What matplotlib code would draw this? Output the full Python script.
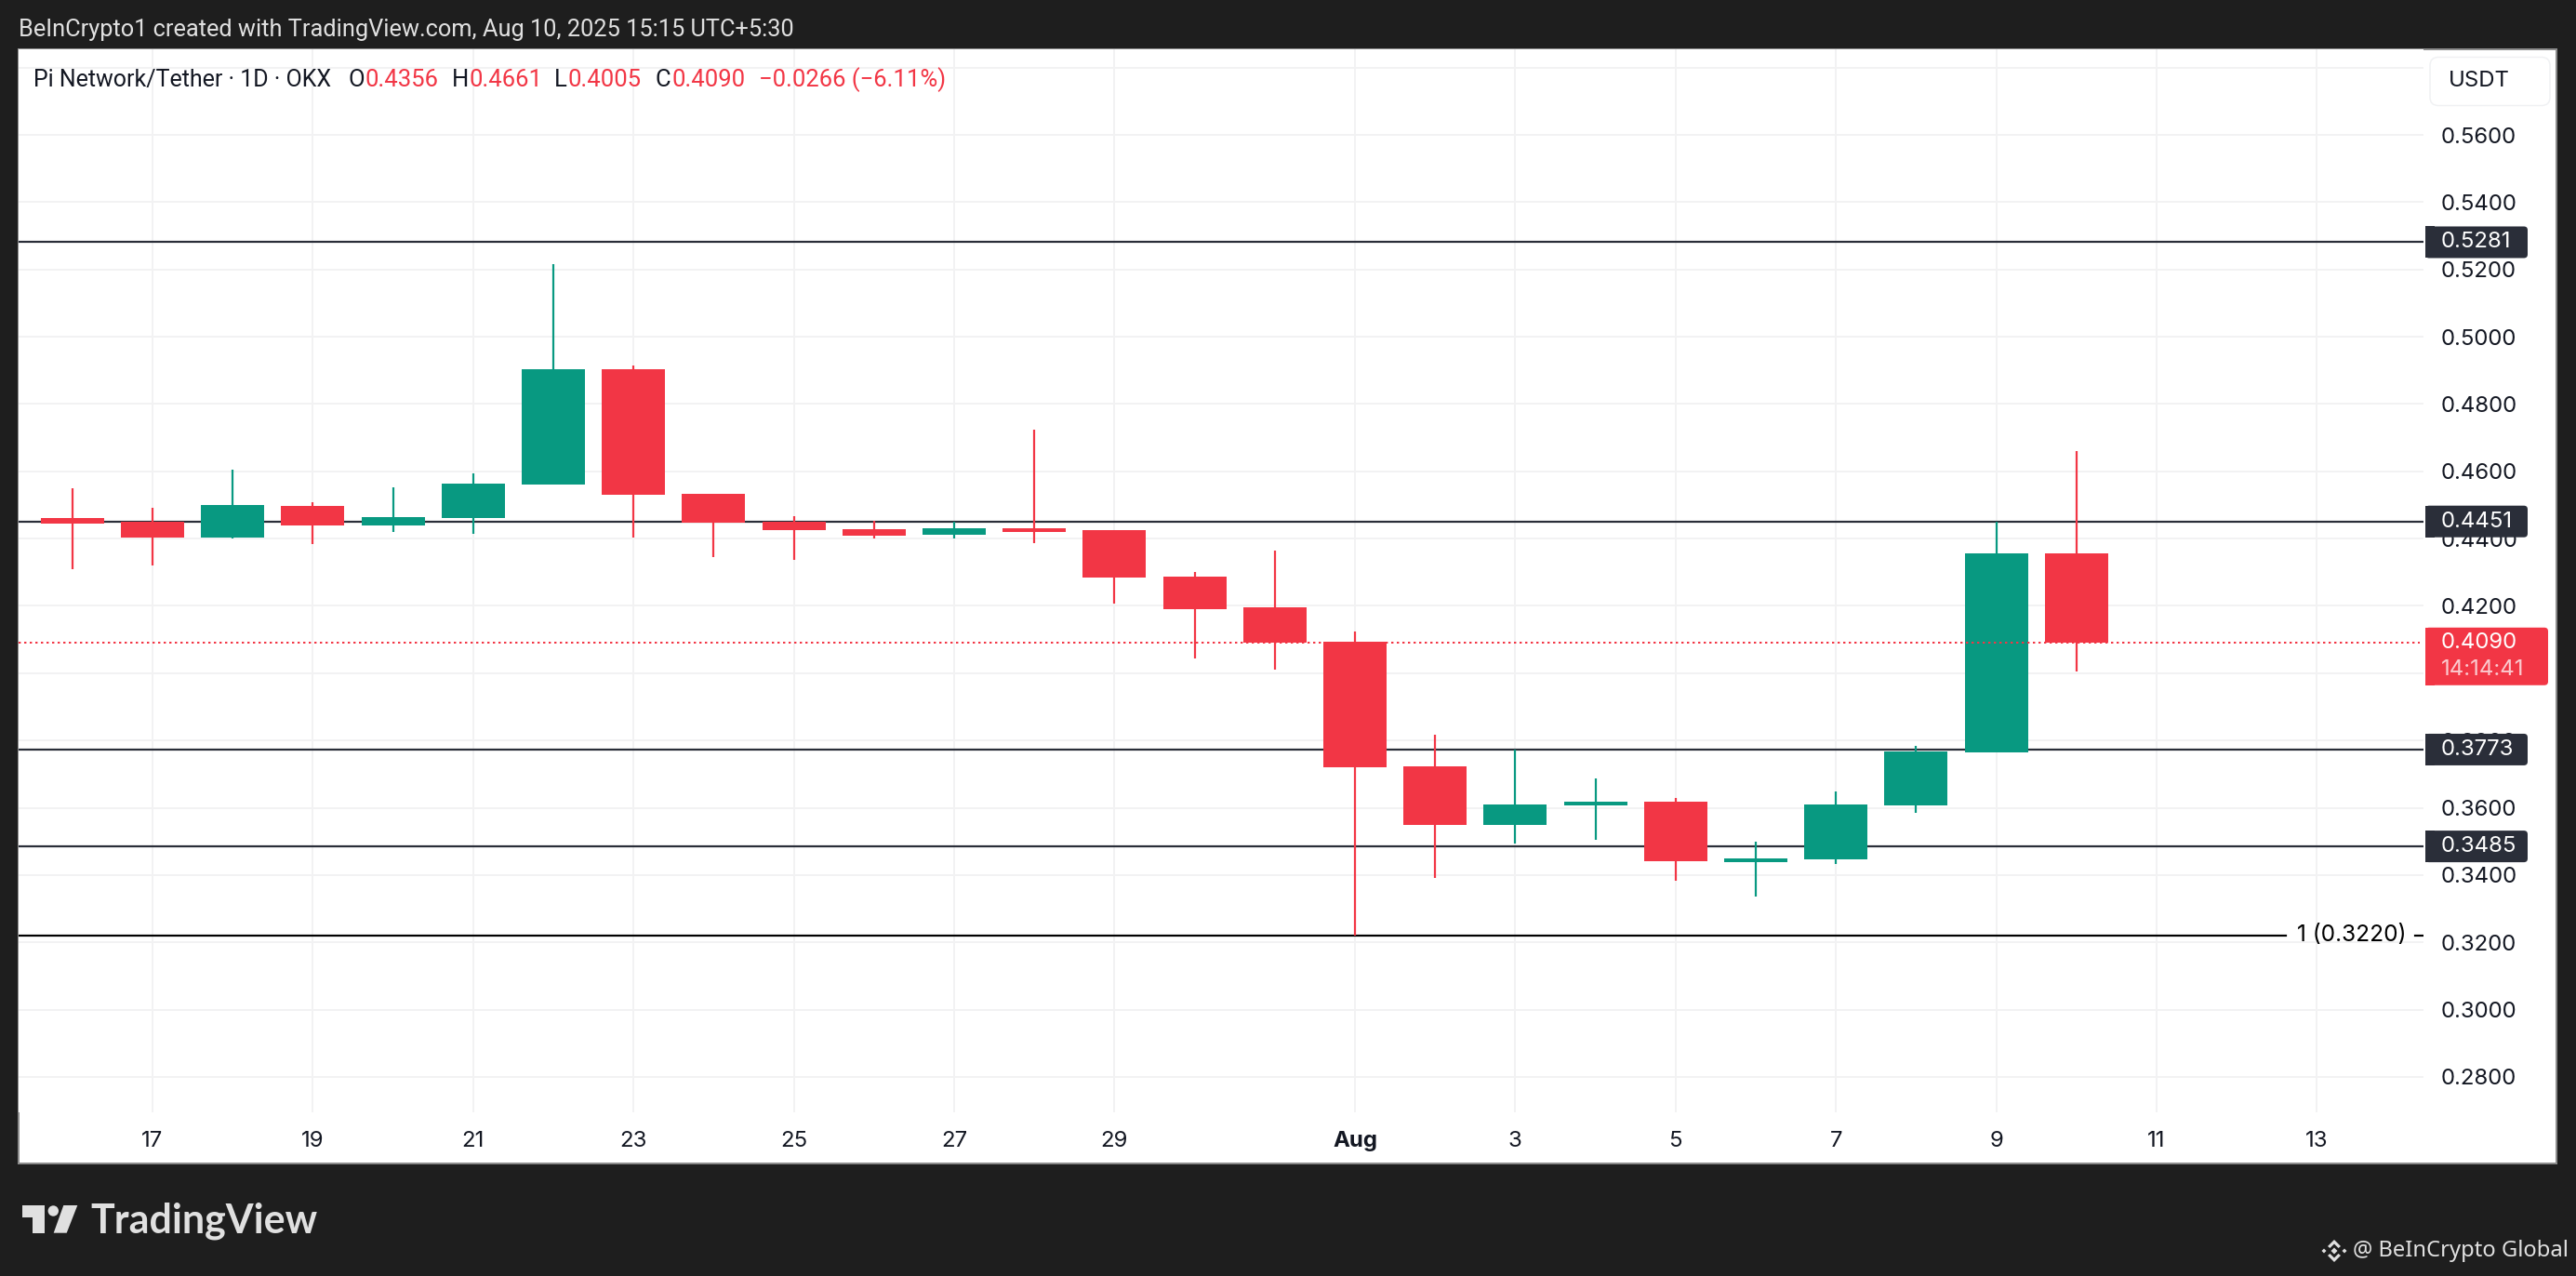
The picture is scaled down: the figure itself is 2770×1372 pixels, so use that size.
import matplotlib
matplotlib.use('Agg')
import matplotlib.pyplot as plt
from matplotlib.patches import Rectangle, FancyBboxPatch, Polygon, Circle
from matplotlib.transforms import IdentityTransform

# Daily candles, Jul 16 to Aug 10
opens = [0.4461, 0.4450, 0.4403, 0.4497, 0.4439, 0.4461, 0.4561, 0.4903, 0.4532, 0.4449, 0.4427, 0.4411, 0.4430,
         0.4425, 0.4286, 0.4195, 0.4093, 0.3723, 0.3549, 0.3607, 0.3618, 0.3438, 0.3446, 0.3607, 0.3764, 0.4356]
highs = [0.4549, 0.4491, 0.4605, 0.4508, 0.4552, 0.4594, 0.5216, 0.4914, 0.4532, 0.4466, 0.4452, 0.4451, 0.4723,
         0.4425, 0.4300, 0.4364, 0.4124, 0.3817, 0.3773, 0.3687, 0.3629, 0.3499, 0.3648, 0.3784, 0.4451, 0.4661]
lows = [0.4309, 0.4320, 0.4400, 0.4384, 0.4420, 0.4414, 0.4561, 0.4403, 0.4344, 0.4336, 0.4400, 0.4400, 0.4386,
        0.4206, 0.4043, 0.4010, 0.3220, 0.3391, 0.3493, 0.3504, 0.3383, 0.3336, 0.3433, 0.3585, 0.3764, 0.4005]
closes = [0.4444, 0.4403, 0.4500, 0.4439, 0.4464, 0.4563, 0.4903, 0.4530, 0.4447, 0.4425, 0.4408, 0.4430, 0.4419,
          0.4284, 0.4190, 0.4090, 0.3720, 0.3549, 0.3610, 0.3618, 0.3441, 0.3449, 0.3610, 0.3767, 0.4356, 0.4090]

x_ticks = [1, 3, 5, 7, 9, 11, 13, 16, 18, 20, 22, 24, 26, 28]
x_labels = ['17', '19', '21', '23', '25', '27', '29', 'Aug', '3', '5', '7', '9', '11', '13']
price_ticks = [0.58, 0.56, 0.54, 0.52, 0.50, 0.48, 0.46, 0.44, 0.42, 0.40, 0.38, 0.36, 0.34, 0.32, 0.30, 0.28]
levels = [0.5281, 0.4451, 0.3773, 0.3485]
fib_level = 0.3220
last_price = 0.4090

GREEN = '#089981'
RED = '#f23645'
DARK = '#2a2e39'
BG = '#1e1e1e'
GRID = '#f2f2f3'
W, H = 2770, 1372
FONT = 'Inter'

fig = plt.figure(figsize=(W / 100, H / 100), dpi=100, facecolor=BG)
pix = IdentityTransform()


def px(v):
    # pixels to points
    return v * 0.72


def txt(x, y, s, color='#131722', size=24, ha='left', va='center', family=FONT, **kw):
    return fig.text(x / W, 1 - y / H, s, color=color, fontsize=px(size), ha=ha, va=va, family=family, zorder=8, **kw)


# white chart frame
fig.add_artist(Rectangle((20, H - 1251), 2729, 1198, transform=pix, facecolor='white', edgecolor='#8c8c8c',
                         linewidth=px(2), zorder=-1))

ax = fig.add_axes([20 / W, 1 - 1196 / H, 2586 / W, 1143 / H])
ax.set_facecolor('white')
for s in ax.spines.values():
    s.set_visible(False)
ax.set_xlim(-0.6705, 29.33)
ax.set_ylim(0.26946, 0.58546)

ax.set_axisbelow(True)
ax.grid(True, color=GRID, linewidth=px(2))
ax.set_xticks(x_ticks)
ax.set_xticklabels(x_labels, fontsize=px(24), family=FONT, color='#131722')
ax.get_xticklabels()[x_labels.index('Aug')].set_fontweight('bold')
for t in ax.get_xticklabels():
    t.set_va('center')
ax.yaxis.tick_right()
ax.set_yticks(price_ticks[1:])
ax.set_yticklabels(['%.4f' % p for p in price_ticks[1:]], fontsize=px(24), family=FONT, color='#131722')
ax.tick_params(axis='x', length=0, pad=px(31))
ax.tick_params(axis='y', length=0, pad=px(19))
# the 0.58 line has a grid line but no label
ax.axhline(price_ticks[0], color=GRID, linewidth=px(2), zorder=0)

# horizontal levels
for lv in levels:
    ax.axhline(lv, color=DARK, linewidth=px(2.2), zorder=1)
ax.plot([-0.6705, 27.61], [fib_level, fib_level], color='black', linewidth=px(2.2), zorder=1)
ax.plot([29.23, 29.33], [fib_level, fib_level], color='black', linewidth=px(2.2), zorder=1)

# candles
days = list(range(len(opens)))
colors = [GREEN if c >= o else RED for o, c in zip(opens, closes)]
ax.vlines(days, lows, highs, colors=colors, linewidth=px(2.2), zorder=2)
bottoms = [min(o, c) for o, c in zip(opens, closes)]
heights = [abs(c - o) for o, c in zip(opens, closes)]
ax.bar(days, heights, bottom=bottoms, width=0.789, color=colors, linewidth=0, zorder=3)

ax.plot([-0.6705, 29.28], [last_price, last_price], color=RED, linewidth=px(2), linestyle=(0, (1.2, 1.8)), zorder=4)


def py(price):
    # pixel height measured from the top of the figure
    return H - ax.transData.transform((0, price))[1]


def price_box(x0, x1, y0, y1, color):
    fig.add_artist(FancyBboxPatch((x0, H - y1), x1 - x0, y1 - y0, boxstyle='round,pad=0,rounding_size=4', transform=pix,
                                  facecolor=color, edgecolor='none', zorder=5))
    fig.add_artist(Rectangle((x0, H - y1), 10, y1 - y0, transform=pix, facecolor=color, edgecolor='none', zorder=5))


for lv in levels:
    price_box(2608, 2718, py(lv) - 17, py(lv) + 17, DARK)
    txt(2625, py(lv), '%.4f' % lv, color='white')

price_box(2608, 2740, py(last_price) - 16.5, py(last_price) + 45.5, RED)
txt(2625, py(last_price), '%.4f' % last_price, color='white')
txt(2625, py(last_price) + 28.5, '14:14:41', color='#fbc9ce')

# fib label
txt(2470, py(fib_level), '1 (%.4f)' % fib_level, color='black', size=24.5)

# currency button
fig.add_artist(FancyBboxPatch((2613, H - 113.5), 129, 52, boxstyle='round,pad=0,rounding_size=9', transform=pix,
                              facecolor='white', edgecolor='#f0f1f3', linewidth=px(1.5), zorder=5))
txt(2633, 87, 'USDT')

# header
hf = 'Roboto'
txt(20, 32, 'BeInCrypto1 created with TradingView.com, Aug 10, 2025 15:15 UTC+5:30', color='#e0e0e0', size=25.4, family=hf)
txt(36, 86, 'Pi Network/Tether · 1D · OKX', size=25, family=hf)
for x, s, col in [(375, 'O', '#131722'), (393, '0.4356', RED), (486, 'H', '#131722'), (505, '0.4661', RED),
                  (596, 'L', '#131722'), (610, '0.4005', RED), (704, 'C', '#131722'), (722, '0.4090', RED),
                  (816, '−0.0266 (−6.11%)', RED)]:
    txt(x, 86, s, color=col, size=25.6, family=hf)

# footer logo
fig.add_artist(Polygon([(24, H - 1296), (48.3, H - 1296), (48.3, H - 1325.7), (35, H - 1325.7), (35, H - 1308.5), (24, H - 1308.5)],
                       transform=pix, facecolor='#e0e0e0', edgecolor='none', zorder=5))
fig.add_artist(Circle((57.3, H - 1302), 5.7, transform=pix, facecolor='#e0e0e0', edgecolor='none', zorder=5))
fig.add_artist(Polygon([(68.3, H - 1296), (83.3, H - 1296), (71.7, H - 1325.7), (57.7, H - 1325.7)],
                       transform=pix, facecolor='#e0e0e0', edgecolor='none', zorder=5))
txt(97, 1325.7, 'TradingView', color='#e0e0e0', size=43, va='baseline', family='Lato', fontweight='bold')

# watermark
for cx, cy, r in [(2499, 1345, 2.5), (2521, 1345, 2.5), (2510, 1345, 3.5)]:
    fig.add_artist(Polygon([(cx - r, H - cy), (cx, H - cy + r), (cx + r, H - cy), (cx, H - cy - r)], transform=pix,
                           facecolor='#e0e0e0', edgecolor='none', zorder=5))
for sgn in [1, -1]:
    fig.add_artist(Polygon([(2503, H - 1345 + sgn * 5), (2510, H - 1345 + sgn * 12), (2517, H - 1345 + sgn * 5),
                            (2514.5, H - 1345 + sgn * 3), (2510, H - 1345 + sgn * 7.5), (2505.5, H - 1345 + sgn * 3)],
                           transform=pix, facecolor='#e0e0e0', edgecolor='none', zorder=5))
txt(2530, 1345, '@ BeInCrypto Global', color='#e0e0e0', size=23.8, family='Noto Sans')

fig.savefig('out.png', dpi=100, facecolor=BG)
